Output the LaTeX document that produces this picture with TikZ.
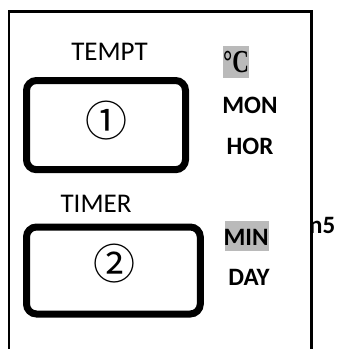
\documentclass[tikz,border=0pt]{standalone}
\usepackage{fontspec}
\usepackage{graphicx}
\setmainfont{Carlito}
\newfontfamily\symfont{Noto Sans CJK SC}
\newfontfamily\serfont{Liberation Serif}
\begin{document}
\begin{tikzpicture}[x=1pt,y=-1pt,
  btn/.style={line width=7pt,rounded corners=10pt},
  lbl/.style={inner sep=0pt,font=\fontsize{27}{30}\selectfont},
  unit/.style={inner sep=0pt,font=\fontsize{25}{28}\selectfont\bfseries},
  num/.style={inner sep=0pt,font=\symfont\fontsize{42}{46}\selectfont},
  hl/.style={fill=black!27,draw=none}]
\useasboundingbox (0,0) rectangle (339,349);
\clip (0,0) rectangle (339,349);
\draw[line width=2.8pt] (9,360) -- (9,11.5) -- (311.7,11.5) -- (311.7,360);
\draw[btn] (26.5,80.5) rectangle (185.5,169.7);
\draw[btn] (26.5,227) rectangle (200.3,314);
\node[lbl] (tempt) at (109.5,52) {TEMPT};
\node[lbl] (timer) at (96,203.5) {TIMER};
\node[num] (one) at (106,121) {①};
\node[num] (two) at (114,264) {②};
\fill[hl] (223,46) rectangle (249,78);
\node[inner sep=0pt,font=\serfont\fontsize{32}{36}\selectfont\bfseries] (deg) at (236,62.5) {\scalebox{0.72}[1]{°C}};
\node[unit] (mon) at (250,105) {MON};
\node[unit] (hor) at (250,146.5) {HOR};
\fill[hl] (225,221) rectangle (269,251);
\node[unit] (min) at (246,237) {MIN};
\node[unit] (day) at (249,277.5) {DAY};
\node[unit,anchor=west] (n5) at (309,225.5) {n5};
\end{tikzpicture}
\end{document}
